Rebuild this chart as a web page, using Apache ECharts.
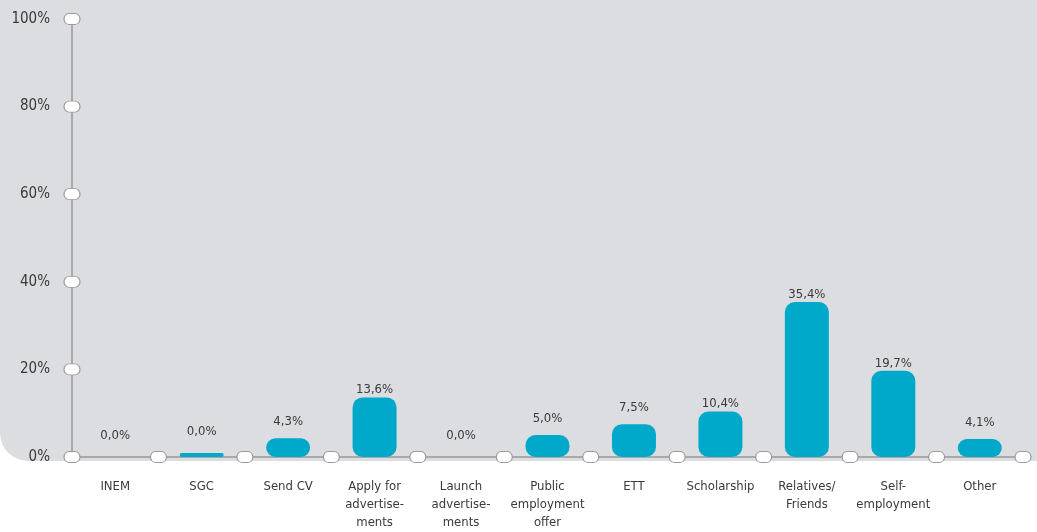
<!DOCTYPE html>
<html>
<head>
<meta charset="utf-8">
<script src="https://cdn.jsdelivr.net/npm/echarts@6/dist/echarts.min.js"></script>
<style>
html,body{margin:0;padding:0;background:#fff;}
#chart{width:1037px;height:532px;}
</style>
</head>
<body>
<div id="chart"></div>
<script>
var categories = ['INEM', 'SGC', 'Send CV', 'Apply for\nadvertise-\nments', 'Launch\nadvertise-\nments', 'Public\nemployment\noffer', 'ETT', 'Scholarship', 'Relatives/\nFriends', 'Self-\nemployment', 'Other'];
var values = [0, 0.9, 4.3, 13.6, 0, 5.0, 7.5, 10.4, 35.4, 19.7, 4.1];
var valueLabels = ['0,0%', '0,0%', '4,3%', '13,6%', '0,0%', '5,0%', '7,5%', '10,4%', '35,4%', '19,7%', '4,1%'];
var yTicks = [0, 20, 40, 60, 80, 100];

var FONT = '"Liberation Sans Narrow", "DejaVu Sans Condensed", sans-serif';
var TEXT = '#3a3a3a';
var AXIS = '#a9a9ab';

var barData = values.map(function (v, i) {
  var d = v < 1 ? 15 : (v < 9 ? 10 : 1);
  return { value: v, label: { distance: d } };
});

var pills = [];
for (var i = 0; i <= categories.length; i++) pills.push([i, 0]);
yTicks.forEach(function (t) { if (t > 0) pills.push([0, t]); });

var chart = echarts.init(document.getElementById('chart'), null, { renderer: 'canvas' });
chart.setOption({
  animation: false,
  backgroundColor: '#ffffff',
  textStyle: { fontFamily: FONT },
  graphic: [{
    type: 'rect', z: -10, silent: true,
    shape: { x: 0, y: 0, width: 1037, height: 461, r: [0, 0, 0, 28] },
    style: { fill: '#dcdde0' }
  }],
  grid: { left: 72, right: 14, top: 19, bottom: 71, containLabel: false },
  xAxis: [{
    type: 'category',
    data: categories,
    axisLine: { show: true, lineStyle: { color: AXIS, width: 2 } },
    axisTick: { show: false },
    axisLabel: { color: TEXT, fontSize: 13, fontFamily: FONT, margin: 21, lineHeight: 18, interval: 0 },
    z: 3
  }, {
    type: 'value', min: 0, max: categories.length, show: false
  }],
  yAxis: [{
    type: 'value', min: 0, max: 100, interval: 20,
    axisLine: { show: true, lineStyle: { color: AXIS, width: 2 } },
    axisTick: { show: false },
    splitLine: { show: false },
    axisLabel: { color: TEXT, fontSize: 15, fontFamily: FONT, margin: 22, formatter: '{value}%' },
    z: 3
  }],
  series: [{
    type: 'bar',
    data: barData,
    barWidth: 44,
    itemStyle: { color: '#00a8ca', borderRadius: 10 },
    label: {
      show: true, position: 'top', color: TEXT, fontSize: 13, fontFamily: FONT,
      formatter: function (p) { return valueLabels[p.dataIndex]; }
    },
    z: 4
  }, {
    type: 'scatter',
    xAxisIndex: 1,
    data: pills,
    symbol: 'path://M5,0 H11 A5,5 0 0 1 11,10 H5 A5,5 0 0 1 5,0 Z',
    symbolSize: [16, 11],
    itemStyle: { color: '#ffffff', borderColor: '#9a9a9c', borderWidth: 1, opacity: 1 },
    silent: true,
    z: 5
  }]
});
</script>
</body>
</html>
